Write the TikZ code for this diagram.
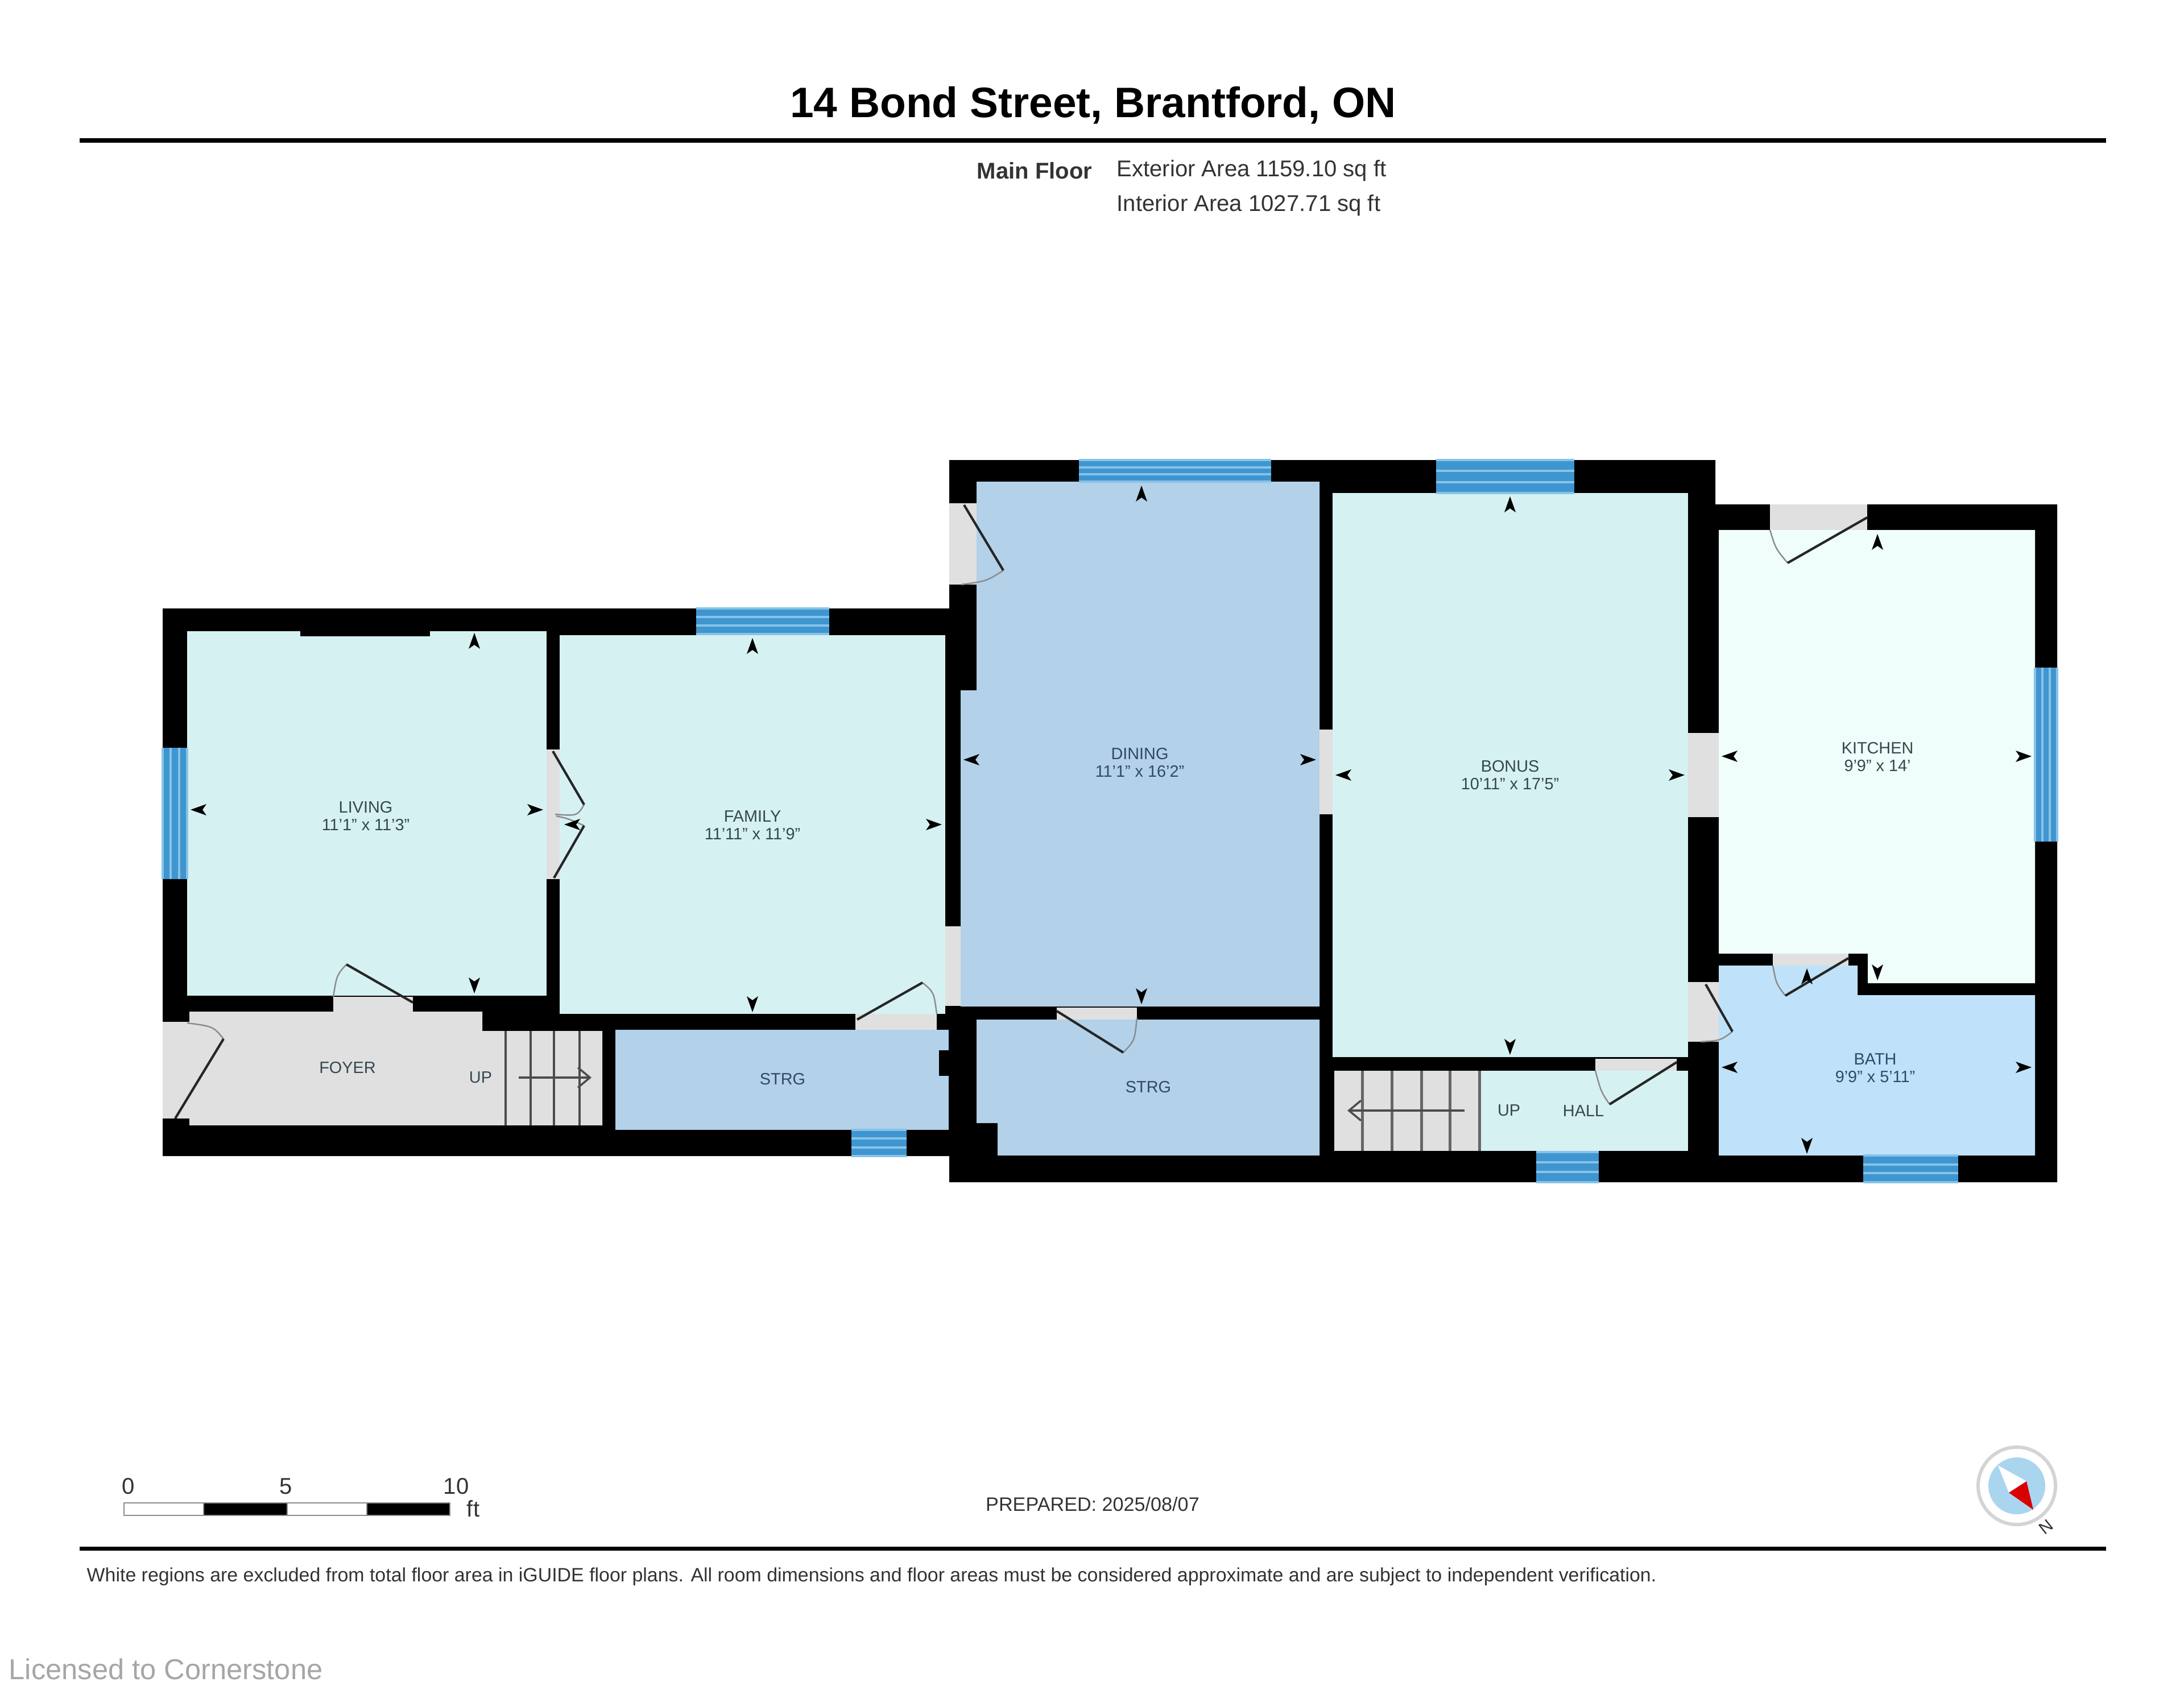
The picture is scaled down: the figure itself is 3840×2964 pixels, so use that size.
\documentclass[tikz,border=0pt]{standalone}
\usepackage{fontspec}
\setmainfont{Liberation Sans}
\usepackage{xcolor}
\usetikzlibrary{arrows.meta}
\definecolor{paleroom}{HTML}{D6F1F2}
\definecolor{midroom}{HTML}{B3D1E8}
\definecolor{kitchenroom}{HTML}{EFFDFB}
\definecolor{bathroom}{HTML}{BFE2FA}
\definecolor{sill}{HTML}{E0E0E0}
\definecolor{glassdark}{HTML}{3F95CF}
\definecolor{glasslight}{HTML}{86C3E8}
\definecolor{inkroom}{HTML}{36474F}
\definecolor{inkmid}{HTML}{2F4A66}
\tikzset{
  roomlabel/.style={text=inkroom,align=center,inner sep=0pt,font=\fontsize{8.2}{8.9}\selectfont},
  midlabel/.style={roomlabel,text=inkmid},
  sheettext/.style={inner sep=0pt,text=black!80,font=\fontsize{11.4}{13}\selectfont},
  leaf/.style={draw=black!85,line width=1.2pt,line join=miter},
  swing/.style={draw=black!45,line width=.7pt},
  rule/.style={line width=2pt,black}
}
\begin{document}
\begin{tikzpicture}[x=0.01cm,y=-0.01cm]
  \useasboundingbox (0,0) rectangle (3840,2964);
  \pgfmathsetmacro{\ruleL}{140}
  \pgfmathsetmacro{\ruleR}{3703}

  % title block
  \node (title) at (1922,185) [inner sep=0pt,font=\fontsize{21.3}{24}\selectfont\bfseries] {14 Bond Street, Brantford, ON};
  \draw [rule] (\ruleL,247) -- (\ruleR,247);
  \node (floor) at (1921,300) [sheettext,anchor=east,font=\fontsize{11.4}{13}\selectfont\bfseries] {Main Floor};
  \node (exterior) at (1963,300) [sheettext,anchor=west] {Exterior Area 1159.10 sq ft};
  \node (interior) at (1963,361) [sheettext,anchor=west] {Interior Area 1027.71 sq ft};

  % walls, rooms go on top
  \fill [black] (286,1070) -- (1669,1070) -- (1669,809) -- (3016,809) -- (3016,887) -- (3617,887)
    -- (3617,2079) -- (1669,2079) -- (1669,2033) -- (286,2033) -- cycle;

  \fill [paleroom] (329,1110) rectangle (961,1751);
  \fill [black] (528,1108) rectangle (756,1119);
  \fill [paleroom] (984,1117) rectangle (1662,1783);
  \fill [sill] (333,1779) -- (848,1779) -- (848,1813) -- (1059,1813) -- (1059,1979) -- (333,1979) -- cycle;
  \fill [midroom] (1082,1811) rectangle (1668,1987);
  \fill [black] (1651,1847) rectangle (1670,1892);
  \fill [midroom] (1717,847) -- (2320,847) -- (2320,1770) -- (1689,1770) -- (1689,1214) -- (1717,1214) -- cycle;
  \fill [midroom] (1717,1793) -- (2320,1793) -- (2320,2032) -- (1754,2032) -- (1754,1975) -- (1717,1975) -- cycle;
  \fill [paleroom] (2343,867) rectangle (2968,1859);
  \fill [paleroom] (2346,1883) rectangle (2968,2024);
  \fill [sill] (2346,1883) rectangle (2600,2024);
  \fill [kitchenroom] (3022,932) -- (3578,932) -- (3578,1729) -- (3284,1729) -- (3284,1677) -- (3022,1677) -- cycle;
  \fill [bathroom] (3022,1698) -- (3266,1698) -- (3266,1750) -- (3578,1750) -- (3578,2032) -- (3022,2032) -- cycle;

  % door openings
  \foreach \xa/\ya/\xb/\yb in {961/1318/984/1546,586/1753/726/1779,286/1797/333/1967,1504/1783/1647/1811,
    1662/1629/1689/1769,1669/885/1717/1028,1858/1772/1999/1793,2320/1283/2343/1432,2968/1289/3022/1437,
    2968/1727/3022/1832,3112/887/3283/932,3117/1677/3250/1698,2805/1862/2948/1883}
  {
    \fill [sill] (\xa,\ya) rectangle (\xb,\yb);
  }

  % windows across a horizontal wall
  \foreach \xa/\xb/\ya/\yb in {1224/1458/1070/1115,1497/1594/1987/2033,1897/2235/809/847,2525/2768/809/867,
    2701/2811/2026/2079,3276/3443/2032/2079}
  {
    \fill [glassdark] (\xa,\ya) rectangle (\xb,\yb);
    \foreach \t in {0,1/3,2/3,1}
    {
      \pgfmathsetmacro{\yy}{\ya+\t*(\yb-\ya)}
      \draw [glasslight,line width=1.1pt] (\xa,\yy) -- (\xb,\yy);
    }
  }
  % and across a vertical one
  \foreach \xa/\xb/\ya/\yb in {286/329/1315/1546,3578/3617/1174/1480}
  {
    \fill [glassdark] (\xa,\ya) rectangle (\xb,\yb);
    \foreach \t in {0,1/3,2/3,1}
    {
      \pgfmathsetmacro{\xx}{\xa+\t*(\xb-\xa)}
      \draw [glasslight,line width=1.1pt] (\xx,\ya) -- (\xx,\yb);
    }
  }

  % door leaves: hinge, tip, control, end of swing
  \foreach \hx/\hy/\tx/\ty/\cx/\cy/\ex/\ey in {972/1321/1027/1415/1015/1435/976/1432,
    974/1544/1027/1452/1000/1440/978/1435,726/1763/609/1696/592/1715/586/1753,
    308/1967/393/1827/375/1805/329/1799,1507/1793/1622/1728/1642/1745/1647/1783,
    1695/888/1764/1003/1735/1022/1690/1028,1858/1778/1975/1851/1995/1830/1999/1790,
    3283/910/3143/990/3122/965/3112/932,3250/1685/3139/1751/3123/1730/3117/1698,
    2999/1731/3046/1814/3025/1830/2990/1832,2948/1868/2830/1942/2815/1920/2805/1883}
  {
    \draw [swing] (\tx,\ty) .. controls (\cx,\cy) .. (\ex,\ey);
    \draw [leaf] (\hx,\hy) -- (\tx,\ty);
  }

  % stairs
  \foreach \xs in {889,933,974,1019}
  {
    \draw [black!70,line width=1pt] (\xs,1813) -- (\xs,1979);
  }
  \foreach \xs in {2395,2447,2499,2549,2601}
  {
    \draw [black!60,line width=1.4pt] (\xs,1883) -- (\xs,2024);
  }
  \draw [black!70,line width=1pt,-{Straight Barb[length=6pt,width=10pt]}] (912,1895) -- (1040,1895);
  \draw [black!70,line width=1pt,-{Straight Barb[length=6pt,width=10pt]}] (2575,1953) -- (2369,1953);

  % dimension marks: x, y, turn
  \foreach \px/\py/\turn in {834/1127/0,834/1733/180,349/1424/90,941/1424/-90,
    1323/1136/0,1323/1766/180,1642/1450/-90,1006/1450/90,
    2007/868/0,2007/1752/180,1708/1336/90,2300/1336/-90,
    2655/887/0,2655/1841/180,2362/1363/90,2948/1363/-90,
    3301/953/0,3301/1710/180,3041/1330/90,3558/1330/-90,
    3177/1717/0,3177/2015/180,3041/1877/90,3558/1877/-90}
  {
    \fill [black,shift={(\px,\py)},rotate=\turn] (0,-14) -- (10,14) -- (0,7) -- (-10,14) -- cycle;
  }

  % room names
  \node (living) at (643,1435) [roomlabel] {LIVING\\11'1" x 11'3"};
  \node (family) at (1323,1451) [roomlabel] {FAMILY\\11'11" x 11'9"};
  \node (foyer) at (611,1878) [roomlabel] {FOYER};
  \node (upfoyer) at (845,1895) [roomlabel] {UP};
  \node (strgwest) at (1376,1898) [midlabel] {STRG};
  \node (dining) at (2004,1341) [midlabel] {DINING\\11'1" x 16'2"};
  \node (strgeast) at (2019,1912) [midlabel] {STRG};
  \node (bonus) at (2655,1363) [roomlabel] {BONUS\\10'11" x 17'5"};
  \node (uphall) at (2653,1953) [roomlabel] {UP};
  \node (hall) at (2784,1954) [roomlabel] {HALL};
  \node (kitchen) at (3301,1331) [roomlabel] {KITCHEN\\9'9" x 14'};
  \node (bath) at (3297,1878) [midlabel] {BATH\\9'9" x 5'11"};

  % scale bar
  \foreach \xa/\xb/\c in {218/358/white,358/505/black,505/645/white,645/791/black}
  {
    \draw [draw=black!45,fill=\c,line width=.8pt] (\xa,2643) rectangle (\xb,2665);
  }
  \node (zero) at (226,2614) [sheettext] {0};
  \node (five) at (503,2614) [sheettext] {5};
  \node (ten) at (802,2614) [sheettext] {10};
  \node (feet) at (832,2653) [sheettext] {ft};

  \node (prepared) at (1921,2645) [sheettext,font=\fontsize{9.72}{11}\selectfont] {PREPARED: 2025/08/07};

  % compass
  \draw [draw=black!17,fill=white,line width=1.7pt] (3546,2613) circle [radius=68];
  \fill [glasslight!70!white] (3546,2613) circle [radius=50];
  \fill [white] (3513,2577) -- (3532,2625) -- (3563,2605) -- cycle;
  \fill [red!85!black] (3532,2625) -- (3563,2605) -- (3575,2655) -- cycle;
  \node (north) at (3597,2685) [sheettext,rotate=-141.5,font=\fontsize{8.5}{9}\selectfont] {N};

  % foot of the sheet
  \draw [rule] (\ruleL,2723) -- (\ruleR,2723);
  \node (disclaimer) at (152,2773) [sheettext,anchor=west,font=\fontsize{9.64}{11}\selectfont] {White regions are excluded from total floor area in iGUIDE floor plans. All room dimensions and floor areas must be considered approximate and are subject to independent verification.};
  \node (licence) at (15,2935) [inner sep=0pt,anchor=west,text=black!35,font=\fontsize{14.4}{16}\selectfont] {Licensed to Cornerstone};
\end{tikzpicture}
\end{document}
